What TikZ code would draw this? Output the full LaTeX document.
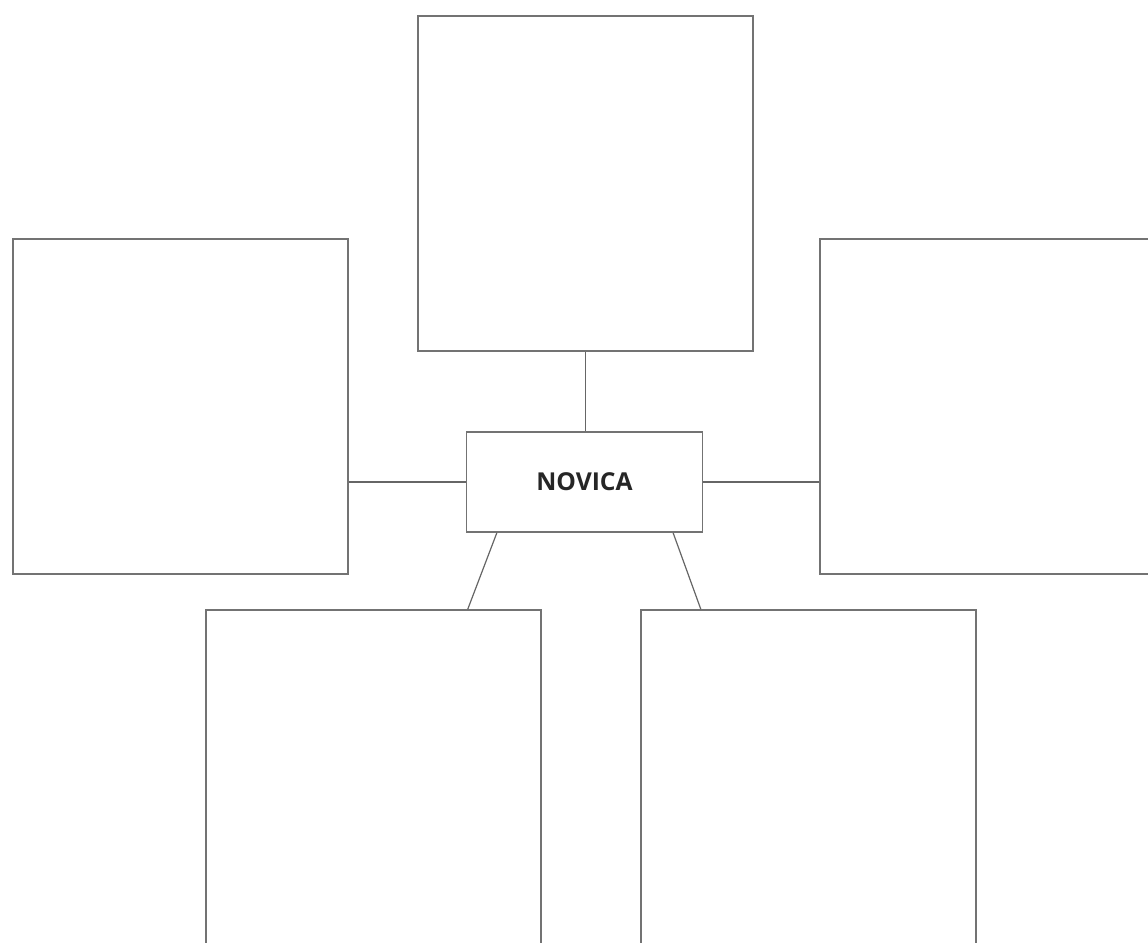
\documentclass[tikz,border=0pt]{standalone}
\usepackage{fontspec}
\setmainfont{Open Sans}
\usetikzlibrary{calc}
\tikzset{
  box/.style={draw=black!55, line width=1.1pt, fill=white, inner sep=0pt, minimum width=251.25pt, minimum height=251.25pt},
  tallbox/.style={box, minimum height=300pt},
  centerbox/.style={draw=black!55, line width=1.1pt, inner sep=0pt, minimum width=177pt, minimum height=75pt, font=\bfseries\fontsize{18.5}{22}\selectfont, text=black!85},
  link/.style={draw=black!60, line width=0.9pt}
}
\begin{document}
\begin{tikzpicture}[x=0.75pt,y=-0.75pt]
\useasboundingbox (0,0) rectangle (1148,942);
\clip (0,0) rectangle (1148,942);
\fill[white] (0,0) rectangle (1148,942);
\node[box] (top) at (585.5,183.5) {};
\node[box] (left) at (180.5,406.5) {};
\node[box] (right) at (987.5,406.5) {};
\node[centerbox] (c) at (584.5,482) {NOVICA};
\node[tallbox] (bl) at (373.5,810) {};
\node[tallbox] (br) at (808.5,810) {};
\draw[link] (top.south) -- (top.south |- c.north);
\draw[link] (left.east |- c.west) -- (c.west);
\draw[link] (c.east) -- (right.west |- c.east);
\draw[link] ($(c.south west)!0.131!(c.south east)$) -- ($(bl.north west)!0.78!(bl.north east)$);
\draw[link] ($(c.south west)!0.873!(c.south east)$) -- ($(br.north west)!0.18!(br.north east)$);
\end{tikzpicture}
\end{document}
